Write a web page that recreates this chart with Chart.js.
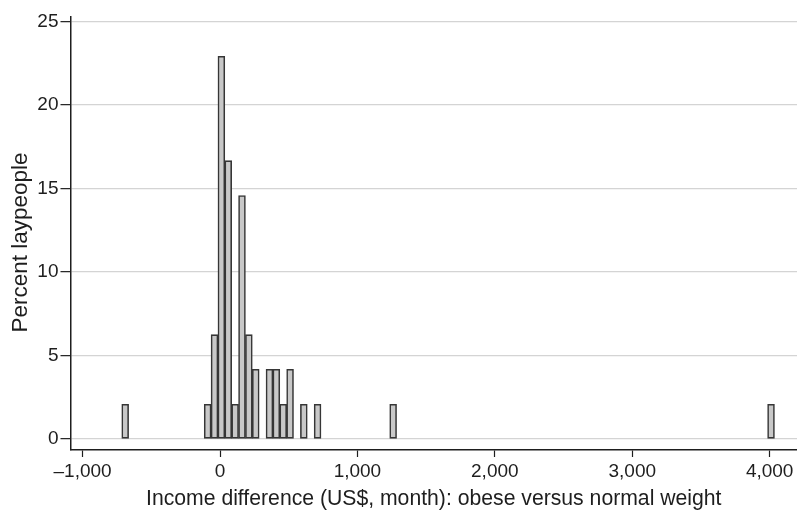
<!DOCTYPE html>
<html>
<head>
<meta charset="utf-8">
<script src="https://cdn.jsdelivr.net/npm/chart.js@4/dist/chart.umd.min.js"></script>
<style>
  html, body { margin: 0; padding: 0; background: #ffffff; }
  #wrap { width: 797px; height: 512px; position: relative; }
</style>
</head>
<body>
<div id="wrap"><canvas id="hist"></canvas></div>
<script>
// Histogram bins: centre of each US$50-wide bin (income difference, US$/month)
const binCenters = [-690, -90, -40, 10, 60, 110, 160, 210, 260, 360, 410, 460, 510, 610, 710, 1260, 4010];
// Share of laypeople falling in each bin (%)
const percentLaypeople = [2.08, 2.08, 6.25, 22.92, 16.67, 2.08, 14.58, 6.25, 4.17, 4.17, 4.17, 2.08, 4.17, 2.08, 2.08, 2.08, 2.08];

const xTickValues = [-1000, 0, 1000, 2000, 3000, 4000];
const xTickLabels = ['\u20131,000', '0', '1,000', '2,000', '3,000', '4,000'];
const yTickValues = [0, 5, 10, 15, 20, 25];
const yTickLabels = ['0', '5', '10', '15', '20', '25'];

const xTitle = 'Income difference (US$, month): obese versus normal weight';
const yTitle = 'Percent laypeople';

const FONT = '"Liberation Sans", Arial, Helvetica, sans-serif';
const INK = '#1e1e1e';

const points = binCenters.map((x, i) => ({ x: x, y: percentLaypeople[i] }));

// Vertical axis title, set a little below the middle of the plot height
const yTitlePlugin = {
  id: 'yAxisTitle',
  afterDraw(chart) {
    const { ctx, chartArea } = chart;
    const cy = (chartArea.top + chartArea.bottom) / 2 + 9;
    ctx.save();
    ctx.translate(21, cy);
    ctx.rotate(-Math.PI / 2);
    ctx.font = '22.5px ' + FONT;
    ctx.fillStyle = INK;
    ctx.textAlign = 'center';
    ctx.textBaseline = 'middle';
    ctx.fillText(yTitle, 0, 0);
    ctx.restore();
  }
};

new Chart(document.getElementById('hist'), {
  type: 'bar',
  data: {
    datasets: [{
      data: points,
      backgroundColor: '#c8c8c8',
      borderColor: '#363636',
      borderWidth: 1.6,
      borderSkipped: false,
      barPercentage: 1,
      categoryPercentage: 1
    }]
  },
  plugins: [yTitlePlugin],
  options: {
    responsive: true,
    maintainAspectRatio: false,
    animation: false,
    layout: { padding: { top: 17, right: 0, left: 0, bottom: 0 } },
    plugins: { legend: { display: false }, tooltip: { enabled: false } },
    scales: {
      x: {
        type: 'linear',
        offset: false,
        min: -1088,
        max: 4199,
        afterBuildTicks: (scale) => { scale.ticks = xTickValues.map(v => ({ value: v })); },
        afterFit: (scale) => { scale.height = 62; },
        ticks: {
          autoSkip: false,
          maxRotation: 0,
          padding: 3,
          color: INK,
          font: { family: FONT, size: 19 },
          callback: (value, index) => xTickLabels[index]
        },
        grid: {
          offset: false,
          drawOnChartArea: false,
          drawTicks: true,
          tickLength: 7,
          tickColor: INK,
          tickWidth: 1.2
        },
        border: { display: true, color: INK, width: 1.5 },
        title: {
          display: true,
          text: xTitle,
          color: INK,
          font: { family: FONT, size: 21.2 },
          padding: { top: 0, bottom: 0 }
        }
      },
      y: {
        type: 'linear',
        min: -0.66,
        max: 25.27,
        afterBuildTicks: (scale) => { scale.ticks = yTickValues.map(v => ({ value: v })); },
        afterFit: (scale) => { scale.width = 70.5; },
        ticks: {
          autoSkip: false,
          padding: 2,
          color: INK,
          font: { family: FONT, size: 19 },
          callback: (value, index) => yTickLabels[index]
        },
        grid: {
          color: '#d4d4d4',
          lineWidth: 1.3,
          drawTicks: true,
          tickLength: 10,
          tickColor: INK,
          tickWidth: 1.2
        },
        border: { display: true, color: INK, width: 1.5 },
        title: { display: false }
      }
    }
  }
});
</script>
</body>
</html>
